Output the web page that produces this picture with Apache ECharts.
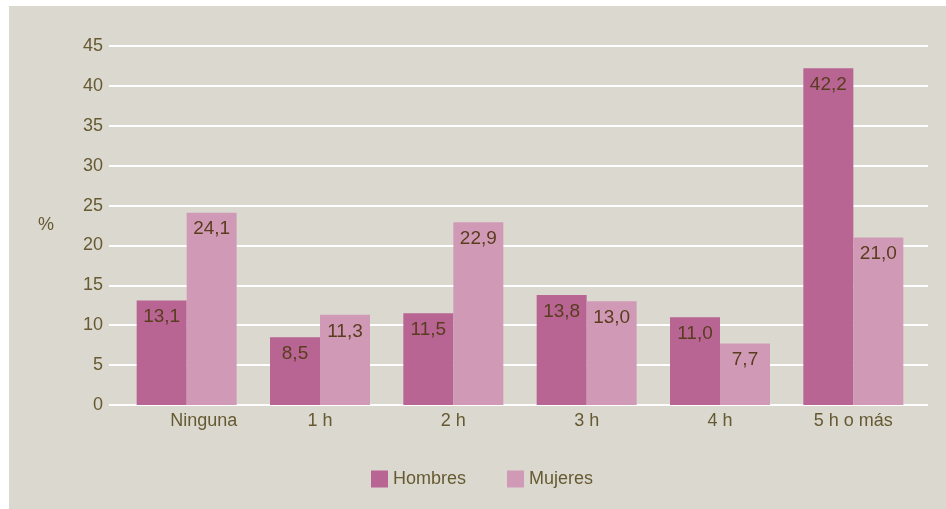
<!DOCTYPE html>
<html>
<head>
<meta charset="utf-8">
<script src="https://cdn.jsdelivr.net/npm/echarts@6/dist/echarts.min.js"></script>
<style>
  html, body { margin: 0; padding: 0; background: #fff; }
  #chart { width: 946px; height: 509px; }
</style>
</head>
<body>
<div id="chart"></div>
<script>
const categories = ['Ninguna', '1 h', '2 h', '3 h', '4 h', '5 h o más'];
const hombres = [13.1, 8.5, 11.5, 13.8, 11.0, 42.2];
const mujeres = [24.1, 11.3, 22.9, 13.0, 7.7, 21.0];
const seriesNames = ['Hombres', 'Mujeres'];

const FONT = 'Liberation Sans';
const TEXT_COLOR = '#665a32';
const VALUE_COLOR = '#5a3c1e';

function fmt(v) {
  return v.toFixed(1).replace('.', ',');
}

var chart = echarts.init(document.getElementById('chart'));

const valueLabel = {
  show: true,
  position: 'insideTop',
  distance: 7,
  fontFamily: FONT,
  fontSize: 19,
  color: VALUE_COLOR,
  formatter: function (p) { return fmt(p.value); }
};

chart.setOption({
  backgroundColor: '#ffffff',
  animation: false,
  graphic: [{
    type: 'rect',
    z: -10,
    shape: { x: 9, y: 6, width: 937, height: 503 },
    style: { fill: '#dbd8cf' }
  }],
  textStyle: { fontFamily: FONT },
  legend: {
    data: seriesNames,
    left: 371,
    top: 470,
    padding: 0,
    icon: 'rect',
    itemWidth: 17,
    itemHeight: 17,
    itemGap: 41,
    textStyle: { fontFamily: FONT, fontSize: 18, color: TEXT_COLOR }
  },
  grid: [
    { left: 109, right: 18, top: 46, bottom: 104 },
    { left: 120, right: 26, top: 46, bottom: 104 }
  ],
  xAxis: [
    { gridIndex: 0, type: 'category', data: categories, show: false },
    {
      gridIndex: 1,
      type: 'category',
      data: categories,
      axisLine: { show: false },
      axisTick: { show: false },
      axisLabel: {
        interval: 0,
        margin: 7,
        fontFamily: FONT,
        fontSize: 18,
        color: TEXT_COLOR,
        formatter: function (v, i) {
          return i === 0 ? '{first|' + v + '}' : v;
        },
        rich: {
          first: { padding: [0, 0, 0, 34], fontFamily: FONT, fontSize: 18, color: TEXT_COLOR }
        }
      }
    }
  ],
  yAxis: [
    {
      gridIndex: 0,
      type: 'value',
      min: 0,
      max: 45,
      interval: 5,
      name: '%',
      nameLocation: 'middle',
      nameRotate: 0,
      nameGap: 55,
      nameTextStyle: { fontFamily: FONT, fontSize: 18, color: TEXT_COLOR },
      axisLine: { show: false },
      axisTick: { show: false },
      axisLabel: { margin: 6, fontFamily: FONT, fontSize: 18, color: TEXT_COLOR },
      splitLine: { lineStyle: { color: '#ffffff', width: 2 } }
    },
    {
      gridIndex: 1,
      type: 'value',
      min: 0,
      max: 45,
      interval: 5,
      show: false,
      splitLine: { show: false }
    }
  ],
  series: [
    {
      name: seriesNames[0],
      type: 'bar',
      xAxisIndex: 1,
      yAxisIndex: 1,
      barWidth: 50,
      barGap: '0%',
      itemStyle: { color: '#b86594' },
      label: valueLabel,
      data: hombres
    },
    {
      name: seriesNames[1],
      type: 'bar',
      xAxisIndex: 1,
      yAxisIndex: 1,
      barWidth: 50,
      barGap: '0%',
      itemStyle: { color: '#d09ab7' },
      label: valueLabel,
      data: mujeres
    }
  ]
});
</script>
</body>
</html>
